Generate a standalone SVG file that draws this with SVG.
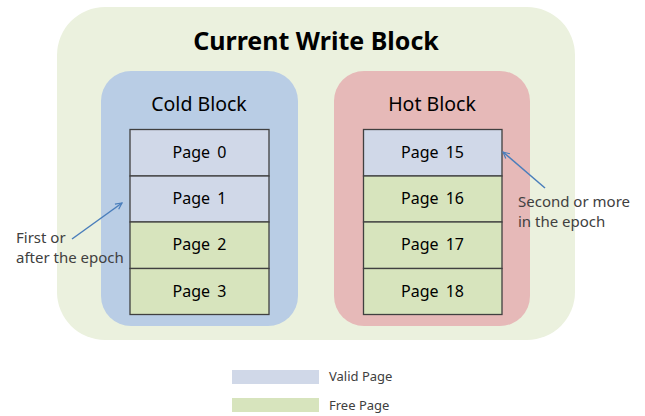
<svg xmlns="http://www.w3.org/2000/svg" width="645" height="416" viewBox="0 0 645 416">
  <defs>
    <style>
      text { font-family: "Noto Sans", "Liberation Sans", sans-serif; }
      .title { font-size: 25px; font-weight: bold; fill: #000; text-anchor: middle; }
      .blk { font-size: 19.5px; fill: #000; text-anchor: middle; }
      .page { stroke: #404040; stroke-width: 1.3; }
      .valid { fill: #D0D8E8; }
      .free { fill: #D7E4BD; }
      .plabel { font-size: 16px; fill: #000; text-anchor: middle; word-spacing: 3px; }
      .note { font-size: 15px; fill: #404040; }
      .legend { font-size: 13px; fill: #404040; }
      .arrow { stroke: #4A7EBB; stroke-width: 1.5; fill: none; }
    </style>
    <marker id="openHead" viewBox="0 0 10 10" refX="9" refY="5" markerWidth="8" markerHeight="8" orient="auto" markerUnits="userSpaceOnUse">
      <path d="M1,1 L9,5 L1,9" fill="none" stroke="#4A7EBB" stroke-width="1.5"/>
    </marker>
  </defs>

  <rect width="645" height="416" fill="#FFFFFF"/>

  <g id="current-write-block">
    <rect x="57" y="7" width="518" height="333" rx="48" fill="#EBF1DE"/>
    <text class="title" x="316" y="50">Current Write Block</text>
  </g>

  <g id="cold-block">
    <rect x="101" y="71" width="197" height="255" rx="30" fill="#B9CDE5"/>
    <text class="blk" x="199" y="111">Cold Block</text>
    <g id="page-0"><rect class="page valid" x="130" y="129.5" width="139" height="46.5"/><text class="plabel" x="199.5" y="158">Page 0</text></g>
    <g id="page-1"><rect class="page valid" x="130" y="176" width="139" height="46"/><text class="plabel" x="199.5" y="204">Page 1</text></g>
    <g id="page-2"><rect class="page free" x="130" y="222" width="139" height="46.5"/><text class="plabel" x="199.5" y="250">Page 2</text></g>
    <g id="page-3"><rect class="page free" x="130" y="268.5" width="139" height="46"/><text class="plabel" x="199.5" y="297">Page 3</text></g>
  </g>

  <g id="hot-block">
    <rect x="334" y="71" width="196" height="255" rx="30" fill="#E6B9B8"/>
    <text class="blk" x="432" y="111">Hot Block</text>
    <g id="page-15"><rect class="page valid" x="363.5" y="129.5" width="138.5" height="46.5"/><text class="plabel" x="432.5" y="158">Page 15</text></g>
    <g id="page-16"><rect class="page free" x="363.5" y="176" width="138.5" height="46"/><text class="plabel" x="432.5" y="204">Page 16</text></g>
    <g id="page-17"><rect class="page free" x="363.5" y="222" width="138.5" height="46.5"/><text class="plabel" x="432.5" y="250">Page 17</text></g>
    <g id="page-18"><rect class="page free" x="363.5" y="268.5" width="138.5" height="46"/><text class="plabel" x="432.5" y="297">Page 18</text></g>
  </g>

  <g id="connectors">
    <line class="arrow" x1="72" y1="239" x2="122" y2="203" marker-end="url(#openHead)"/>
    <line class="arrow" x1="545" y1="188" x2="503" y2="152" marker-end="url(#openHead)"/>
  </g>

  <g id="note-first">
    <text class="note" x="16" y="243">First or</text>
    <text class="note" x="16" y="263">after the epoch</text>
  </g>
  <g id="note-second">
    <text class="note" x="518" y="207">Second or more</text>
    <text class="note" x="518" y="227">in the epoch</text>
  </g>

  <g id="legend">
    <rect class="valid" x="232" y="370" width="87" height="14"/>
    <text class="legend" x="329" y="381">Valid Page</text>
    <rect class="free" x="232" y="398" width="87" height="14"/>
    <text class="legend" x="329" y="410">Free Page</text>
  </g>
</svg>
